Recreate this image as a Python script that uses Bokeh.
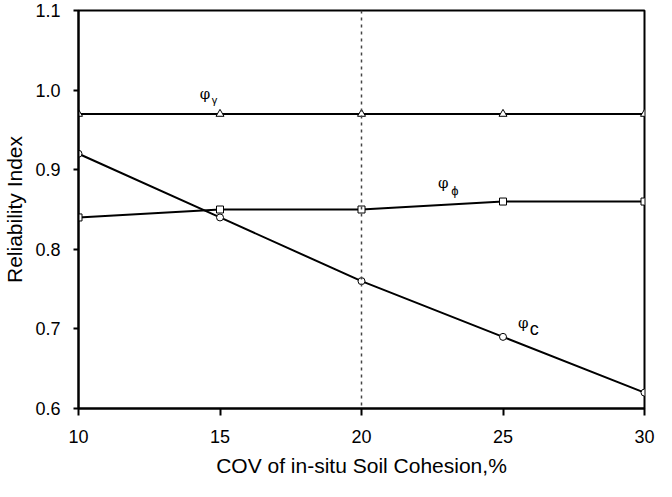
from bokeh.plotting import figure
from bokeh.models import Span, Range1d, FixedTicker
from bokeh.core.properties import value
from bokeh.embed import file_html
from bokeh.resources import INLINE

cov = [10, 15, 20, 25, 30]
phi_c = [0.92, 0.84, 0.76, 0.69, 0.62]
phi_phi = [0.84, 0.85, 0.85, 0.86, 0.86]
phi_gamma = [0.97, 0.97, 0.97, 0.97, 0.97]
x_ticks = [10, 15, 20, 25, 30]
y_ticks = [0.6, 0.7, 0.8, 0.9, 1.0, 1.1]

# curve labels: main symbol and subscript
lab_main_x = [14.47, 22.89, 25.72]
lab_main_y = [0.9956, 0.8834, 0.7075]
lab_main = ["φ", "φ", "φ"]
sub_g = (14.81, 0.9875, "γ")
sub_p = (23.30, 0.874, "ϕ")
sub_c = (26.10, 0.700, "c")

FONT = "Liberation Sans"

p = figure(width=656, height=481, output_backend="svg", toolbar_location=None,
           x_range=Range1d(10, 30), y_range=Range1d(0.6, 1.1),
           min_border_left=74, min_border_right=12, min_border_top=10, min_border_bottom=73)
p.xgrid.visible = False
p.ygrid.visible = False
p.outline_line_color = "black"
p.outline_line_width = 2
p.background_fill_color = "white"
p.border_fill_color = "white"

for ax in (p.xaxis[0], p.yaxis[0]):
    ax.axis_line_width = 2
    ax.axis_line_color = "black"
    ax.major_tick_line_width = 2
    ax.major_tick_line_color = "black"
    ax.minor_tick_line_color = None
    ax.major_tick_in = 0
    ax.major_label_text_font = FONT
    ax.major_label_text_font_size = "18px"
    ax.major_label_text_color = "black"
    ax.axis_label_text_font = FONT
    ax.axis_label_text_font_size = "21px"
    ax.axis_label_text_font_style = "normal"
    ax.axis_label_text_color = "black"

p.xaxis.ticker = FixedTicker(ticks=x_ticks)
p.yaxis.ticker = FixedTicker(ticks=y_ticks)
p.xaxis.major_label_overrides = {t: str(t) for t in x_ticks}
p.yaxis.major_label_overrides = {t: f"{t:.1f}" for t in y_ticks}
p.xaxis.major_tick_out = 7
p.yaxis.major_tick_out = 5
p.xaxis.major_label_standoff = 14
p.yaxis.major_label_standoff = 13
p.xaxis.axis_label = "COV of in-situ Soil Cohesion,%"
p.yaxis.axis_label = "Reliability Index"
p.xaxis.axis_label_standoff = 8
p.yaxis.axis_label_standoff = 6

p.add_layout(Span(location=20, dimension="height", line_color="#444444",
                  line_width=1.5, line_dash="3 4"))

p.line(cov, phi_gamma, line_color="black", line_width=2)
p.scatter(cov, phi_gamma, marker="triangle", size=8, fill_color="white",
          line_color="black", line_width=1)
p.line(cov, phi_phi, line_color="black", line_width=2)
p.scatter(cov, phi_phi, marker="square", size=7, fill_color="white",
          line_color="black", line_width=1)
p.line(cov, phi_c, line_color="black", line_width=2)
p.scatter(cov, phi_c, marker="circle", size=7, fill_color="white",
          line_color="black", line_width=1)

p.text(lab_main_x, lab_main_y, text=lab_main, text_font=value("DejaVu Serif"),
       text_font_size="15px", text_align="center", text_baseline="middle",
       text_color="black")
for (sx, sy, st), fs in ((sub_g, "11px"), (sub_p, "13px"), (sub_c, "18px")):
    p.text([sx], [sy], text=[st], text_font=value(FONT), text_font_size=fs,
           text_align="center", text_baseline="middle", text_color="black")

open("out.html", "w").write(file_html(p, INLINE))
